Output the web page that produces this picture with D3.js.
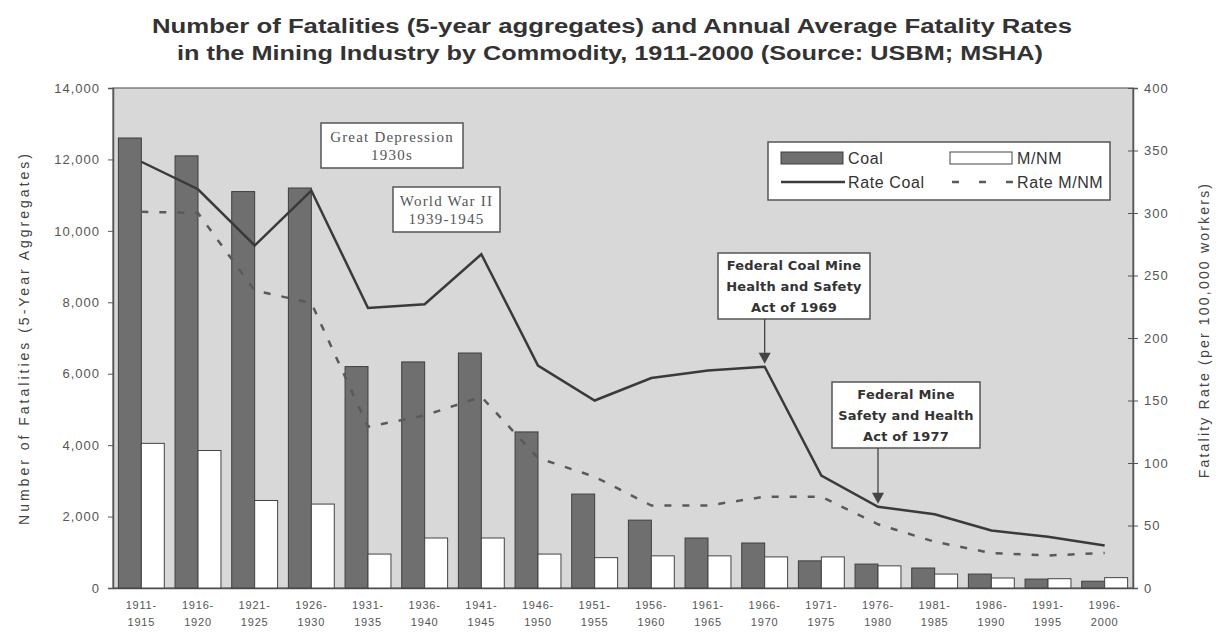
<!DOCTYPE html>
<html>
<head>
<meta charset="utf-8">
<script src="https://cdn.jsdelivr.net/npm/d3@7"></script>
<style>
  body { margin: 0; background: #fff; }
  svg { display: block; }
</style>
</head>
<body>
<div id="chart"></div>
<script>
// ---- data ----
const periods = ['1911-1915','1916-1920','1921-1925','1926-1930','1931-1935','1936-1940',
  '1941-1945','1946-1950','1951-1955','1956-1960','1961-1965','1966-1970','1971-1975',
  '1976-1980','1981-1985','1986-1990','1991-1995','1996-2000'];
const coalDeaths = [12600, 12100, 11100, 11200, 6200, 6330, 6580, 4370, 2630, 1900, 1400, 1260, 760, 670, 560, 390, 250, 190];
const mnmDeaths  = [4050, 3850, 2450, 2350, 950, 1400, 1400, 950, 850, 900, 900, 870, 870, 620, 390, 280, 260, 290];
const coalRate = [341, 319, 274, 318, 224, 227, 267, 178, 150, 168, 174, 177, 90, 65, 59, 46, 41, 34];
const mnmRate  = [301, 300, 238, 228, 129, 138, 153, 104, 89, 66, 66, 73, 73, 51, 37, 28, 26, 28];
const leftTicks  = [0, 2000, 4000, 6000, 8000, 10000, 12000, 14000];
const rightTicks = [0, 50, 100, 150, 200, 250, 300, 350, 400];

const W = 1224, H = 638;
const plot = { left: 113, right: 1133, top: 88, bottom: 588 };
const col = {
  plotBg: '#d8d8d8',
  axis: '#555',
  text: '#555',
  coal: '#6f6f6f',
  coalStroke: '#3f3f3f',
  line: '#3a3a3a'
};
const sans = 'Arial, "Liberation Sans", sans-serif';

const svg = d3.select('#chart').append('svg')
  .attr('width', W).attr('height', H)
  .style('font-family', sans);

// ---- title ----
svg.append('text')
  .attr('x', 612).attr('y', 33).attr('text-anchor', 'middle')
  .attr('textLength', 920).attr('lengthAdjust', 'spacingAndGlyphs')
  .style('font-size', '20px').style('font-weight', 'bold').style('fill', '#333')
  .text('Number of Fatalities (5-year aggregates) and Annual Average Fatality Rates');
svg.append('text')
  .attr('x', 610).attr('y', 60).attr('text-anchor', 'middle')
  .attr('textLength', 866).attr('lengthAdjust', 'spacingAndGlyphs')
  .style('font-size', '20px').style('font-weight', 'bold').style('fill', '#333')
  .text('in the Mining Industry by Commodity, 1911-2000 (Source: USBM; MSHA)');

// ---- scales ----
const x0 = d3.scaleBand().domain(periods)
  .range([plot.left, plot.right]).paddingInner(0.19).paddingOuter(0.095);
const x1 = d3.scaleBand().domain(['coal', 'mnm']).range([0, x0.bandwidth()]);
const yL = d3.scaleLinear().domain([0, 14000]).range([plot.bottom, plot.top]);
const yR = d3.scaleLinear().domain([0, 400]).range([plot.bottom, plot.top]);
const cx = d => x0(d) + x0.bandwidth() / 2;

// ---- plot area ----
svg.append('rect')
  .attr('x', plot.left).attr('y', plot.top)
  .attr('width', plot.right - plot.left).attr('height', plot.bottom - plot.top)
  .attr('fill', col.plotBg).attr('stroke', '#666').attr('stroke-width', 1.2);

// ---- axes ----
const leftAxis = svg.append('g')
  .attr('transform', 'translate(' + plot.left + ',0)')
  .call(d3.axisLeft(yL).tickValues(leftTicks).tickSize(5).tickPadding(8)
    .tickFormat(d3.format(',')));
const rightAxis = svg.append('g')
  .attr('transform', 'translate(' + plot.right + ',0)')
  .call(d3.axisRight(yR).tickValues(rightTicks).tickSize(5).tickPadding(6));
rightAxis.selectAll('.tick line').attr('x1', -5);
[leftAxis, rightAxis].forEach(a => {
  a.select('.domain').attr('stroke', col.axis).attr('stroke-width', 1.5);
  a.selectAll('.tick line').attr('stroke', col.axis);
  a.selectAll('text').style('font-size', '13px').style('fill', col.text)
    .style('letter-spacing', '1px').style('font-family', sans);
});

const xAxis = svg.append('g')
  .attr('transform', 'translate(0,' + plot.bottom + ')')
  .call(d3.axisBottom(x0).tickSize(0).tickPadding(13));
xAxis.select('.domain').attr('stroke', col.axis).attr('stroke-width', 1.5);
xAxis.selectAll('text').each(function(d) {
  const parts = d.split('-');
  const t = d3.select(this).text(null)
    .style('font-size', '11px').style('fill', col.text)
    .style('letter-spacing', '0.8px').style('font-family', sans);
  t.append('tspan').attr('x', 0).attr('dy', '0.71em').text(parts[0] + '-');
  t.append('tspan').attr('x', 0).attr('dy', '1.6em').text(parts[1]);
});

svg.append('text')
  .attr('transform', 'translate(24,' + ((plot.top + plot.bottom) / 2) + ') rotate(-90)')
  .attr('text-anchor', 'middle').attr('dy', '0.35em')
  .style('font-size', '14px').style('letter-spacing', '3px').style('fill', '#444')
  .text('Number of Fatalities (5-Year Aggregates)');
svg.append('text')
  .attr('transform', 'translate(1204,330) rotate(-90)')
  .attr('text-anchor', 'middle').attr('dy', '0.35em')
  .style('font-size', '14px').style('letter-spacing', '2.2px').style('fill', '#444')
  .text('Fatality Rate (per 100,000 workers)');

// ---- bars ----
const groups = svg.append('g').selectAll('g')
  .data(periods).enter().append('g')
  .attr('transform', d => 'translate(' + x0(d) + ',0)');
groups.append('rect')
  .attr('x', x1('coal')).attr('width', x1.bandwidth())
  .attr('y', (d, i) => yL(coalDeaths[i]))
  .attr('height', (d, i) => yL(0) - yL(coalDeaths[i]))
  .attr('fill', col.coal).attr('stroke', col.coalStroke).attr('stroke-width', 1);
groups.append('rect')
  .attr('x', x1('mnm')).attr('width', x1.bandwidth())
  .attr('y', (d, i) => yL(mnmDeaths[i]))
  .attr('height', (d, i) => yL(0) - yL(mnmDeaths[i]))
  .attr('fill', '#fff').attr('stroke', '#444').attr('stroke-width', 1);

// ---- rate lines ----
const line = d3.line().x(d => cx(d[0])).y(d => yR(d[1]));
svg.append('path')
  .datum(periods.map((p, i) => [p, mnmRate[i]]))
  .attr('d', line).attr('fill', 'none')
  .attr('stroke', '#5a5a5a').attr('stroke-width', 2.5).attr('stroke-dasharray', '7,11');
svg.append('path')
  .datum(periods.map((p, i) => [p, coalRate[i]]))
  .attr('d', line).attr('fill', 'none')
  .attr('stroke', col.line).attr('stroke-width', 2.5);

// ---- legend ----
const lg = svg.append('g').attr('transform', 'translate(768,142)');
lg.append('rect').attr('width', 342).attr('height', 58)
  .attr('fill', '#fff').attr('stroke', '#555').attr('stroke-width', 1.5);
lg.append('rect').attr('x', 13).attr('y', 10).attr('width', 62).attr('height', 12)
  .attr('fill', col.coal).attr('stroke', col.coalStroke);
lg.append('rect').attr('x', 182).attr('y', 10).attr('width', 62).attr('height', 12)
  .attr('fill', '#fff').attr('stroke', '#444');
lg.append('line').attr('x1', 13).attr('x2', 77).attr('y1', 40).attr('y2', 40)
  .attr('stroke', col.line).attr('stroke-width', 2.5);
lg.append('line').attr('x1', 184).attr('x2', 246).attr('y1', 40).attr('y2', 40)
  .attr('stroke', '#5a5a5a').attr('stroke-width', 2.5).attr('stroke-dasharray', '7,20');
[['Coal', 80, 16], ['M/NM', 249, 16], ['Rate Coal', 80, 40], ['Rate M/NM', 249, 40]]
  .forEach(d => {
    lg.append('text').attr('x', d[1]).attr('y', d[2]).attr('dy', '0.35em')
      .style('font-size', '16px').style('letter-spacing', '0.6px')
      .style('fill', '#333').text(d[0]);
  });

// ---- annotations ----
function note(x, y, w, h, lines, opts) {
  const g = svg.append('g');
  g.append('rect').attr('x', x).attr('y', y).attr('width', w).attr('height', h)
    .attr('fill', '#fff').attr('stroke', '#555').attr('stroke-width', 1.5);
  const lh = opts.lh;
  const top = y + h / 2 - (lines.length - 1) * lh / 2;
  lines.forEach((t, i) => {
    g.append('text').attr('x', x + w / 2).attr('y', top + i * lh).attr('dy', '0.35em')
      .attr('text-anchor', 'middle')
      .style('font-family', opts.font).style('font-size', opts.size)
      .style('font-weight', opts.weight).style('letter-spacing', opts.ls || '0px')
      .style('fill', opts.color).text(t);
  });
  return g;
}
const serifNote = { font: '"Liberation Serif", "DejaVu Serif", serif', size: '15px',
  weight: 'normal', color: '#555', lh: 18, ls: '1.2px' };
const boldNote = { font: '"DejaVu Sans", Verdana, sans-serif', size: '13px',
  weight: 'bold', color: '#333', lh: 21, ls: '0.2px' };
note(321, 123, 142, 45, ['Great Depression', '1930s'], serifNote);
note(393, 187, 107, 45, ['World War II', '1939-1945'], serifNote);
note(718, 253, 152, 66, ['Federal Coal Mine', 'Health and Safety', 'Act of 1969'], boldNote);
note(832, 382, 148, 66, ['Federal Mine', 'Safety and Health', 'Act of 1977'], boldNote);

// arrows pointing down to the 1966-70 and 1976-80 coal rate points
const arrowTo = (p, i, y0) => {
  const x = cx(p), tip = yR(coalRate[i]) - 3;
  svg.append('line')
    .attr('x1', x).attr('x2', x).attr('y1', y0).attr('y2', tip - 8)
    .attr('stroke', '#444').attr('stroke-width', 1.3);
  svg.append('path')
    .attr('d', 'M' + (x - 6) + ',' + (tip - 11) + ' L' + (x + 6) + ',' + (tip - 11) +
      ' L' + x + ',' + tip + ' Z')
    .attr('fill', '#444');
};
arrowTo('1966-1970', 11, 319);
arrowTo('1976-1980', 13, 448);
</script>
</body>
</html>
